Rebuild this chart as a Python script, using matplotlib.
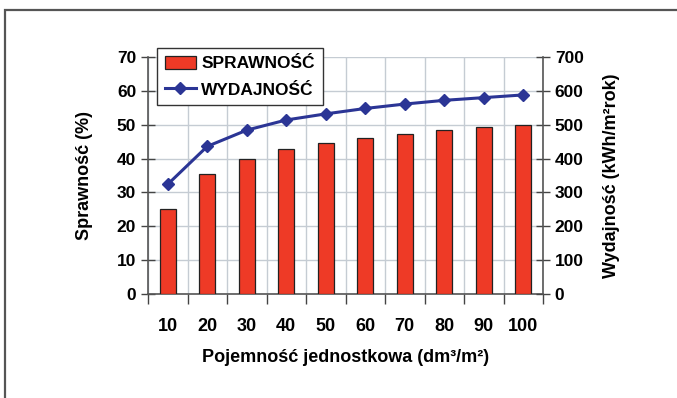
import numpy as np
import matplotlib
matplotlib.use("Agg")
from matplotlib import pyplot as plt
from matplotlib.patches import Rectangle

# unit capacity of the storage tank (dm3/m2)
capacity = [10, 20, 30, 40, 50, 60, 70, 80, 90, 100]
# system efficiency (%)
efficiency = [25.0, 35.4, 40.0, 42.7, 44.6, 46.2, 47.3, 48.3, 49.2, 49.8]
# yearly yield (kWh/m2 per year)
yield_kwh = [324, 436, 484, 514, 532, 548, 561, 572, 580, 588]

plt.rcParams['font.family'] = ['Liberation Sans', 'DejaVu Sans']
plt.rcParams['font.weight'] = 'bold'
plt.rcParams['axes.labelweight'] = 'bold'
plt.rcParams['font.size'] = 12

fig = plt.figure(figsize=(6.77, 3.98), dpi=100)
fig.patch.set_facecolor('white')

# grey frame around the whole chart
fig.patches.append(Rectangle((5 / 677, -0.1), 1.2, 1 - 10 / 398 + 0.1,
                             transform=fig.transFigure, fill=False,
                             edgecolor='#555555', linewidth=1.6))

ax = fig.add_axes([148 / 677, 1 - 294 / 398, 395 / 677, 237 / 398])
x = np.arange(len(capacity))

bars = ax.bar(x, efficiency, width=0.41, color='#EE3A26', edgecolor='#222222',
              linewidth=0.9, zorder=3, label='SPRAWNOŚĆ')
ax.set_xlim(-0.5, len(capacity) - 0.5)
ax.set_ylim(0, 70)
ax.set_yticks(np.arange(0, 71, 10))

# category labels under the bars, tick marks between the categories
ax.set_xticks(x)
ax.set_xticklabels([str(c) for c in capacity], fontsize=13)
ax.tick_params(axis='x', which='major', length=0, pad=17)
ax.set_xticks(np.arange(-0.5, len(capacity), 1.0), minor=True)
ax.tick_params(axis='x', which='minor', length=7, direction='out',
               color='#444444', width=1)
ax.tick_params(axis='y', direction='inout', length=10, color='#444444',
               width=1, labelsize=12.5)

ax.grid(True, which='minor', axis='x', color='#C5CCD3', linewidth=1, zorder=0)
ax.grid(True, which='major', axis='y', color='#C5CCD3', linewidth=1, zorder=0)
ax.grid(False, which='major', axis='x')

for side in ['top', 'right']:
    ax.spines[side].set_visible(False)
for side in ['left', 'bottom']:
    ax.spines[side].set_color('#555555')
    ax.spines[side].set_linewidth(1.2)

ax.set_ylabel('Sprawność (%)', fontsize=13, labelpad=17)
ax.set_xlabel('Pojemność jednostkowa (dm³/m²)', fontsize=13, labelpad=10)

ax2 = ax.twinx()
ax2.set_ylim(0, 700)
ax2.set_yticks(np.arange(0, 701, 100))
line, = ax2.plot(x, yield_kwh, color='#2B3595', linewidth=2.2, marker='D',
                 markersize=6, zorder=4, label='WYDAJNOŚĆ')
ax2.tick_params(axis='y', direction='inout', length=10, color='#444444',
                width=1, labelsize=12.5)
for side in ['top', 'left', 'bottom']:
    ax2.spines[side].set_visible(False)
ax2.spines['right'].set_color('#555555')
ax2.spines['right'].set_linewidth(1.2)
ax2.set_ylabel('Wydajność (kWh/m²rok)', fontsize=13, labelpad=14)

leg = fig.legend([bars, line], ['SPRAWNOŚĆ', 'WYDAJNOŚĆ'],
                 loc='upper left', bbox_to_anchor=(157 / 677, 1 - 48 / 398),
                 borderaxespad=0, fancybox=False, framealpha=1,
                 edgecolor='#333333', fontsize=12.5, handlelength=1.8,
                 handleheight=0.8, borderpad=0.45, labelspacing=0.6,
                 handletextpad=0.3)
leg.get_frame().set_linewidth(1.0)

fig.savefig('out.png', dpi=100)
